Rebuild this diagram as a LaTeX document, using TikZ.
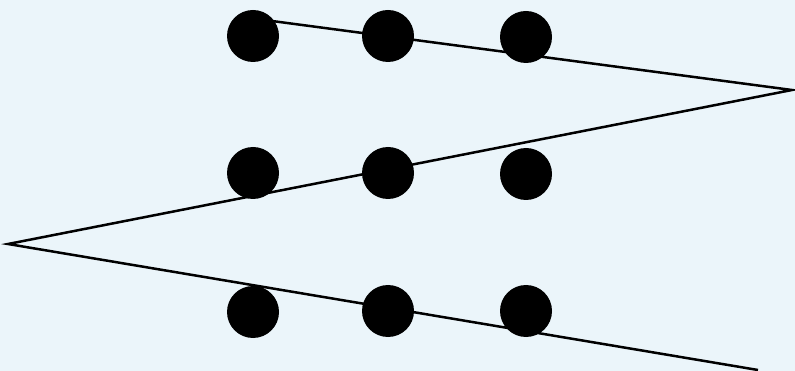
\documentclass[tikz,border=0pt]{standalone}
\definecolor{bgblue}{HTML}{EBF5FA}
\begin{document}
\begin{tikzpicture}[x=1pt,y=-1pt,
  dot/.style={circle,fill=black,inner sep=0pt,minimum size=52pt},
  zig/.style={line width=2.5pt,line join=miter,black}]
\fill[bgblue] (0,0) rectangle (795,371);
\useasboundingbox (0,0) rectangle (795,371);
% dots
\node[dot] (a1) at (253,36) {};
\node[dot] (a2) at (388,36) {};
\node[dot] (a3) at (526,37) {};
\node[dot] (b1) at (253,173) {};
\node[dot] (b2) at (388,173) {};
\node[dot] (b3) at (526,174) {};
\node[dot] (c1) at (253,312) {};
\node[dot] (c2) at (388,311) {};
\node[dot] (c3) at (526,311) {};
% zigzag path
\coordinate (s) at (272,21);
\coordinate (r) at (792,90);
\coordinate (l) at (8,244);
\coordinate (e) at (758,370);
\draw[zig] (s) -- (r) -- (l) -- (e);
\end{tikzpicture}
\end{document}
